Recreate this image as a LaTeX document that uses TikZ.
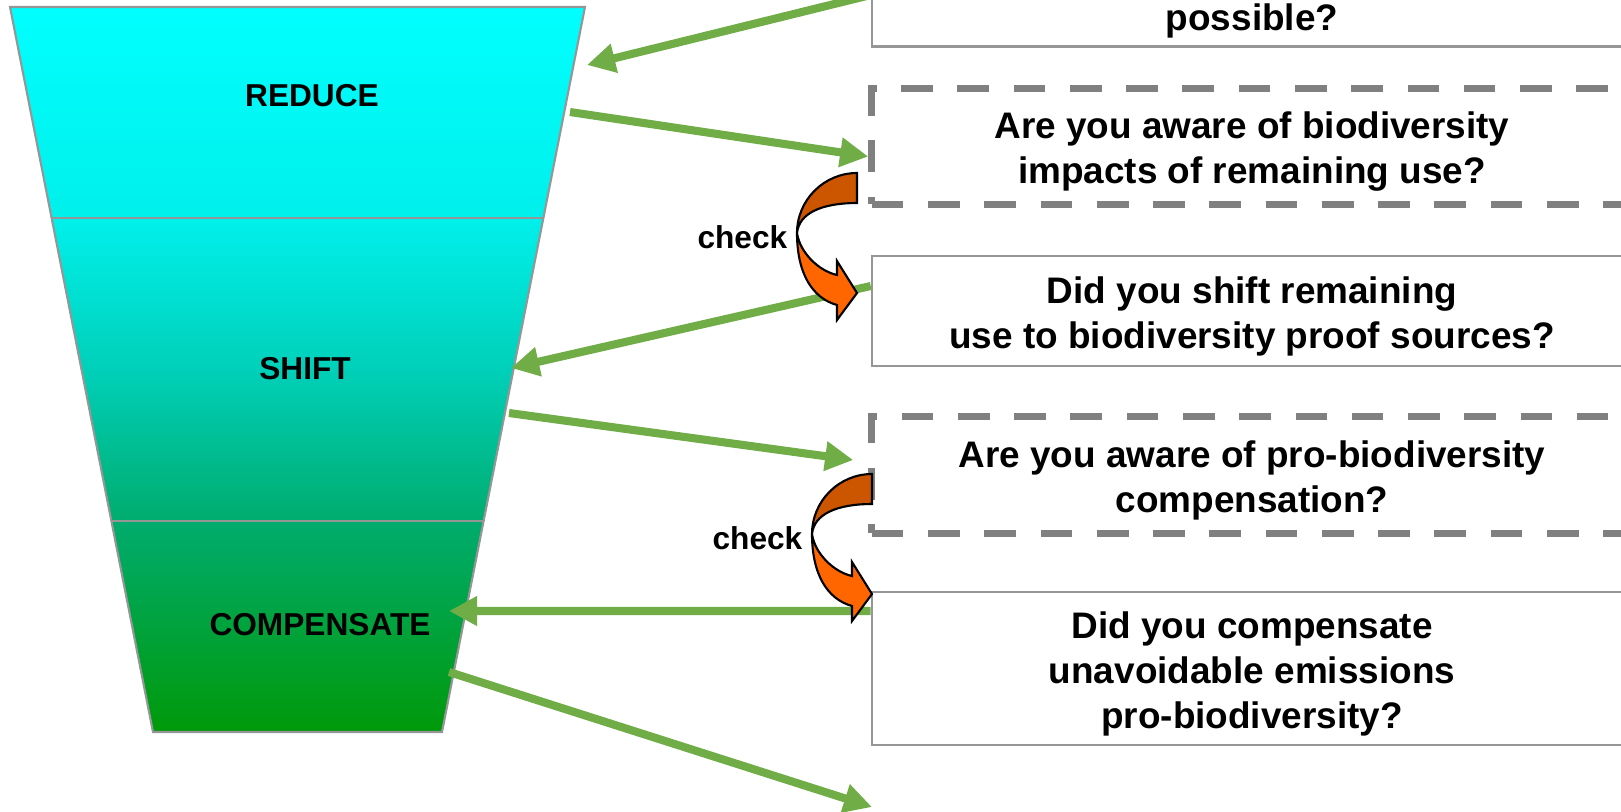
\documentclass[tikz,border=0pt]{standalone}
\usepackage{xcolor}
\usepackage{tikz}
\usepackage{fontspec}
\setmainfont{Liberation Sans}
\usetikzlibrary{positioning,calc,arrows.meta}

\definecolor{arrowgreen}{RGB}{112,173,71}
\definecolor{darkorange}{RGB}{204,85,0}
\definecolor{brightorange}{RGB}{255,102,0}
\definecolor{dashgray}{RGB}{128,128,128}
\definecolor{linegray}{RGB}{150,150,150}
\definecolor{funneltop}{RGB}{0,255,255}
\definecolor{funnela}{RGB}{0,240,235}
\definecolor{funnelb}{RGB}{0,208,185}
\definecolor{funnelc}{RGB}{0,172,110}
\definecolor{funnelbot}{RGB}{0,153,10}
\pgfdeclareverticalshading{funnelshade}{100bp}{color(0bp)=(funnelbot); color(25bp)=(funnelbot); color(39.55bp)=(funnelc); color(50bp)=(funnelb); color(60.45bp)=(funnela); color(75bp)=(funneltop); color(100bp)=(funneltop)}
\newcommand{\topgap}{\rule{0pt}{10.5pt}}

\tikzset{
  flow/.style={draw=arrowgreen, line width=2.3pt, -{Triangle[length=8pt,width=8pt]}},
  question/.style={draw=linegray, line width=0.6pt, minimum width=7.6cm, inner sep=0pt,
    align=center, font=\fontsize{10.5}{12.8}\selectfont\bfseries},
  aware/.style={question, draw=dashgray, line width=2pt, dash pattern=on 9pt off 7pt},
  stage/.style={font=\fontsize{9}{11}\selectfont\bfseries},
}

\begin{document}
\begin{tikzpicture}[x=0.01cm, y=-0.01cm]
    \useasboundingbox (0,0) rectangle (1621,811);

    % Funnel
    \shade [shading=funnelshade] (10,7) -- (585,7) -- (442,732) -- (153,732) -- cycle;
    \draw [linegray, line width=0.6pt] (10,7) -- (585,7) -- (442,732) -- (153,732) -- cycle;
    \draw [linegray, line width=0.6pt] (51.6,218) -- (543.4,218);
    \draw [linegray, line width=0.6pt] (111.4,521) -- (483.6,521);
    \node [stage] (lbl reduce) at (312,96) {REDUCE};
    \node [stage] (lbl shift) at (305,369) {SHIFT};
    \node [stage] (lbl comp) at (320,625) {COMPENSATE};

    % Questions
    \node [question, minimum height=1.03cm] (possible) at (1252,-5) {};
    \node [question, draw=none] (possible text) at (1252,21) {possible?};
    \node [aware, minimum height=1.155cm] (aware use) at (1252,146.5) {\topgap Are you aware of biodiversity\\impacts of remaining use?};
    \node [question, minimum height=1.10cm] (shifted) at (1252,311) {\topgap Did you shift remaining\\use to biodiversity proof sources?};
    \node [aware, minimum height=1.16cm] (aware comp) at (1252,475) {\topgap Are you aware of pro-biodiversity\\compensation?};
    \node [question, minimum height=1.53cm] (compensated) at (1252,668.5) {\topgap Did you compensate\\unavoidable emissions\\pro-biodiversity?};

    % Connectors
    \coordinate (reduce in) at (587,65);
    \coordinate (reduce out) at (570,112);
    \coordinate (shift in) at (511,368);
    \coordinate (shift out) at (509,413);
    \coordinate (comp in) at (449,611);
    \coordinate (comp out) at (449,672);
    \coordinate (next) at (872,807);
    \draw [flow] (possible.west) -- (reduce in);
    \draw [flow] (reduce out) -- ([yshift=-0.1cm]aware use.west);
    \draw [flow] ([yshift=0.25cm]shifted.west) -- (shift in);
    \draw [flow] (shift out) -- ([xshift=-0.15cm,yshift=0.15cm]aware comp.west);
    \draw [flow] ([yshift=0.575cm]compensated.west) -- (comp in);
    \draw [flow] (comp out) -- (next);

    % Check arrows
    \foreach \x/\y/\n in {857/173/1, 872/474/2} {
      \begin{scope}[shift={(\x,\y)}]
        \filldraw [fill=darkorange, draw=black, line width=0.6pt] (0,0) .. controls (-33,0) and (-60,27) .. (-60,60) .. controls (-58,40) and (-35,30) .. (0,30) -- cycle;
        \filldraw [fill=brightorange, draw=black, line width=0.6pt] (-60,60) .. controls (-60,100) and (-45,125) .. (-20,132) -- (-20,147) -- (0,120) -- (-20,88) -- (-20,102) .. controls (-38,98) and (-57,80) .. (-60,60) -- cycle;
        \node [stage, anchor=east, inner sep=0pt] (check\n) at (-69,64) {check};
      \end{scope}
    }
\end{tikzpicture}
\end{document}
